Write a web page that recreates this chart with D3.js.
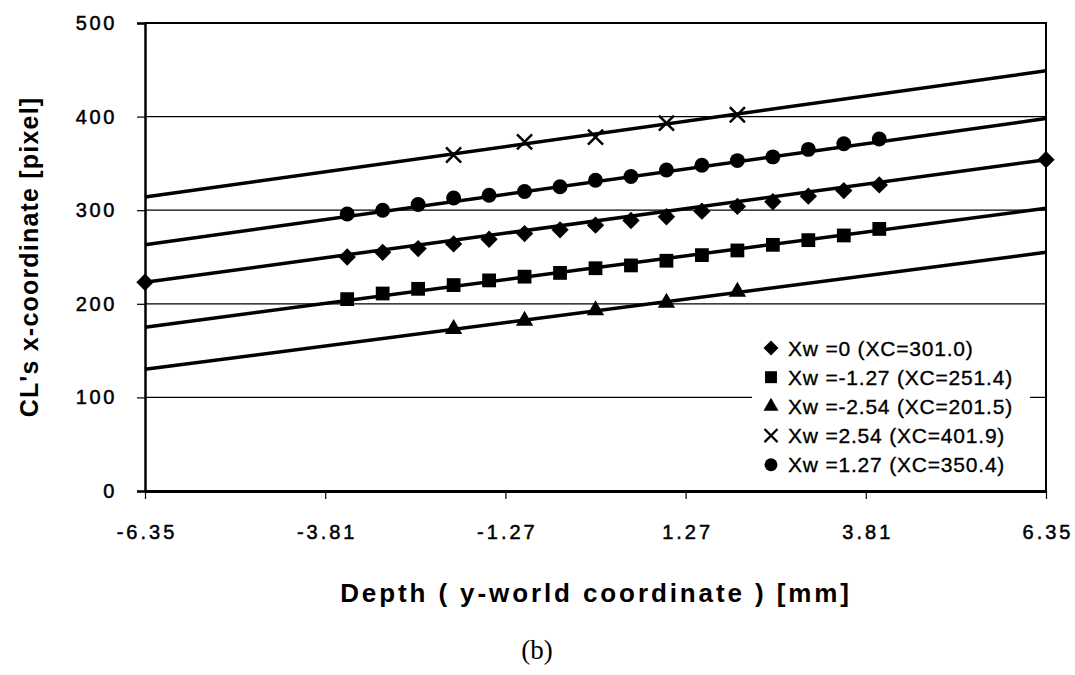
<!DOCTYPE html>
<html>
<head>
<meta charset="utf-8">
<script src="https://cdn.jsdelivr.net/npm/d3@7"></script>
<style>
  body { margin: 0; background: #fff; }
  svg { display: block; font-family: 'Liberation Sans', Arial, sans-serif; }
</style>
</head>
<body>
<div id="viz"></div>
<script>
const width = 1075;
const height = 675;
const margin = {top: 23, right: 29, bottom: 184, left: 145};

// axis ticks
const xTicks = [-6.35, -3.81, -1.27, 1.27, 3.81, 6.35];
const yTicks = [0, 100, 200, 300, 400, 500];
const yGrid = [100, 200, 300, 400];

// depth positions of the measured points [mm]
const depthDense = [-3.5, -3.0, -2.5, -2.0, -1.5, -1.0, -0.5, 0, 0.5, 1.0, 1.5, 2.0, 2.5, 3.0, 3.5, 4.0];
const depthSparse = [-2, -1, 0, 1, 2];
const depthEnds = [-6.35, 6.35];

// measured CL x-coordinate [pixel]
const xw0 = [250, 255, 259, 264, 269, 275, 279, 284, 289, 293, 299, 304, 309, 315, 321, 327];
const xwMinus127 = [205, 211, 216, 220, 225, 229, 233, 238, 241, 246, 252, 257, 263, 268, 273, 280];
const xwMinus254 = [173, 182, 193, 201, 213];
const xwPlus254 = [359, 373, 378, 393, 402];
const xwPlus127 = [296, 300, 306, 313, 316, 320, 325, 332, 336, 343, 348, 353, 357, 365, 371, 376];

// fitted lines, value at depth -6.35 and 6.35
const fitXw0 = [223, 354];
const fitMinus127 = [175, 302];
const fitMinus254 = [130, 255];
const fitPlus254 = [314, 449];
const fitPlus127 = [263, 398];

const series = [
  {label: 'Xw =0 (XC=301.0)', marker: 'diamond', depth: depthDense, values: xw0, fit: fitXw0, endMarkers: true},
  {label: 'Xw =-1.27 (XC=251.4)', marker: 'square', depth: depthDense, values: xwMinus127, fit: fitMinus127},
  {label: 'Xw =-2.54 (XC=201.5)', marker: 'triangle', depth: depthSparse, values: xwMinus254, fit: fitMinus254},
  {label: 'Xw =2.54 (XC=401.9)', marker: 'cross', depth: depthSparse, values: xwPlus254, fit: fitPlus254},
  {label: 'Xw =1.27 (XC=350.4)', marker: 'circle', depth: depthDense, values: xwPlus127, fit: fitPlus127}
];

const svg = d3.select('#viz')
  .append('svg')
    .attr('width', width)
    .attr('height', height);

const xScale = d3.scaleLinear()
  .domain([-6.35, 6.35])
  .range([margin.left, width - margin.right]);
const yScale = d3.scaleLinear()
  .domain([0, 500])
  .range([height - margin.bottom, margin.top]);

// plain hyphen instead of the unicode minus d3 uses
const hyphen = fmt => d => fmt(d).replace('\u2212', '-');

// gridlines
svg.append('g')
  .selectAll('line')
  .data(yGrid)
  .join('line')
    .attr('x1', margin.left)
    .attr('x2', width - margin.right)
    .attr('y1', d => yScale(d))
    .attr('y2', d => yScale(d))
    .attr('stroke', '#000')
    .attr('stroke-width', 1.2);

// frame top and right
svg.append('path')
  .attr('d', `M${margin.left},${yScale(500)}H${width - margin.right}V${yScale(0)}`)
  .attr('fill', 'none')
  .attr('stroke', '#000')
  .attr('stroke-width', 2);

// y axis
const yAxis = d3.axisLeft(yScale)
  .tickValues(yTicks)
  .tickSize(8)
  .tickPadding(20)
  .tickFormat(hyphen(d3.format('d')));
const yAxisGroup = svg.append('g')
  .attr('transform', `translate(${margin.left},0)`)
  .call(yAxis);
yAxisGroup.select('.domain').attr('stroke-width', 2.5);
yAxisGroup.selectAll('.tick line').attr('stroke-width', 1.2);
yAxisGroup.selectAll('.tick text')
  .attr('font-size', 20)
  .attr('letter-spacing', 2.6)
  .attr('fill', '#000')
  .attr('stroke', '#000')
  .attr('stroke-width', 0.5)
  .attr('font-family', "'Liberation Sans', Arial, sans-serif");

// x axis
const xAxis = d3.axisBottom(xScale)
  .tickValues(xTicks)
  .tickSize(8)
  .tickSizeOuter(0)
  .tickPadding(26)
  .tickFormat(hyphen(d3.format('.2f')));
const xAxisGroup = svg.append('g')
  .attr('transform', `translate(0,${yScale(0)})`)
  .call(xAxis);
xAxisGroup.select('.domain').attr('stroke-width', 3);
xAxisGroup.selectAll('.tick line').attr('stroke-width', 1.2);
xAxisGroup.selectAll('.tick text')
  .attr('font-size', 20)
  .attr('letter-spacing', 3)
  .attr('dx', 1.5)
  .attr('fill', '#000')
  .attr('stroke', '#000')
  .attr('stroke-width', 0.5)
  .attr('font-family', "'Liberation Sans', Arial, sans-serif");

// axis titles
svg.append('text')
  .attr('x', 596)
  .attr('y', 602)
  .attr('text-anchor', 'middle')
  .attr('font-size', 26)
  .attr('font-weight', 'bold')
  .attr('letter-spacing', 2.9)
  .text('Depth ( y-world coordinate ) [mm]');

svg.append('text')
  .attr('transform', `translate(38,257) rotate(-90)`)
  .attr('text-anchor', 'middle')
  .attr('font-size', 25)
  .attr('font-weight', 'bold')
  .attr('letter-spacing', 1.2)
  .text("CL's x-coordinate [pixel]");

svg.append('text')
  .attr('x', 537)
  .attr('y', 659)
  .attr('text-anchor', 'middle')
  .attr('font-family', "'Liberation Serif', 'Times New Roman', serif")
  .attr('font-size', 27)
  .text('(b)');

// markers
const symbolFor = (marker, scale) => {
  const s = scale || 1;
  if (marker === 'circle') return d3.symbol().type(d3.symbolCircle).size(175 * s)();
  if (marker === 'square') return d3.symbol().type(d3.symbolSquare).size(190 * s)();
  if (marker === 'diamond') return d3.symbol().type(d3.symbolSquare).size(150 * s)();
  if (marker === 'triangle') return d3.symbol().type(d3.symbolTriangle).size(130 * s)();
  return d3.symbol().type(d3.symbolTimes).size(150 * s)();
};
const markerTransform = (marker, x, y) =>
  marker === 'diamond' ? `translate(${x},${y}) rotate(45)` : `translate(${x},${y})`;

const line = d3.line()
  .x(d => xScale(d[0]))
  .y(d => yScale(d[1]));

const seriesGroup = svg.append('g')
  .selectAll('g')
  .data(series)
  .join('g');

seriesGroup.append('path')
  .attr('d', d => line([[depthEnds[0], d.fit[0]], [depthEnds[1], d.fit[1]]]))
  .attr('fill', 'none')
  .attr('stroke', '#000')
  .attr('stroke-width', 3.5);

seriesGroup.each(function(s) {
  const pts = s.depth.map((x, i) => [x, s.values[i]]);
  if (s.endMarkers) {
    pts.unshift([depthEnds[0], s.fit[0]]);
    pts.push([depthEnds[1], s.fit[1]]);
  }
  d3.select(this)
    .selectAll('.marker')
    .data(pts)
    .join('path')
      .attr('class', 'marker')
      .attr('d', symbolFor(s.marker))
      .attr('transform', d => markerTransform(s.marker, xScale(d[0]), yScale(d[1])))
      .attr('fill', s.marker === 'cross' ? 'none' : '#000')
      .attr('stroke', s.marker === 'cross' ? '#000' : 'none')
      .attr('stroke-width', 2.5);
});

// legend
const legend = svg.append('g')
  .attr('transform', 'translate(752,332)');
legend.append('rect')
  .attr('width', 278)
  .attr('height', 155)
  .attr('fill', '#fff');
const legendItem = legend.selectAll('.item')
  .data(series)
  .join('g')
    .attr('class', 'item')
    .attr('transform', (d, i) => `translate(0,${16 + i * 29.2})`);
legendItem.append('path')
  .attr('d', d => symbolFor(d.marker, 0.75))
  .attr('transform', d => markerTransform(d.marker, 19, 0))
  .attr('fill', d => d.marker === 'cross' ? 'none' : '#000')
  .attr('stroke', d => d.marker === 'cross' ? '#000' : 'none')
  .attr('stroke-width', 2.2);
legendItem.append('text')
  .attr('x', 36)
  .attr('y', 7.5)
  .attr('font-size', 21)
  .attr('letter-spacing', 0.8)
  .attr('stroke', '#000')
  .attr('stroke-width', 0.35)
  .text(d => d.label);
</script>
</body>
</html>
